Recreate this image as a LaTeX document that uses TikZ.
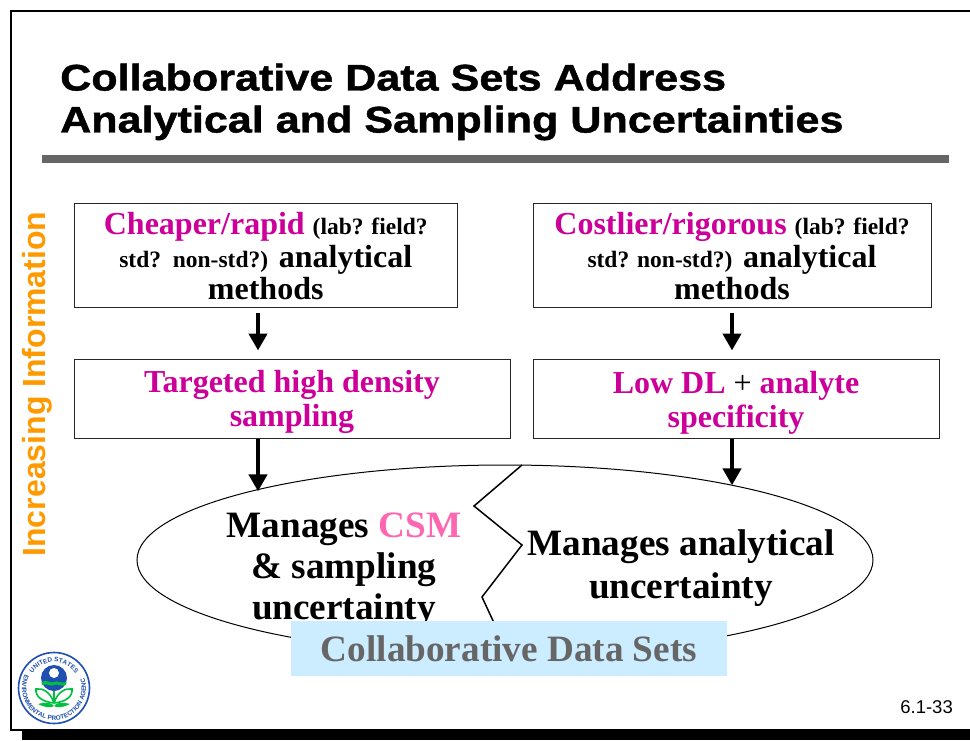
\documentclass[tikz,border=0pt]{standalone}
\usepackage{fontspec}
\setmainfont{Liberation Serif}
\setsansfont{Liberation Sans}
\newfontfamily\titlefont[FakeStretch=1.165,FakeBold=1.2]{Liberation Sans Bold}
\usepackage{xcolor}
\usetikzlibrary{arrows.meta,positioning,shapes.geometric,decorations.text}

\definecolor{magentatext}{HTML}{CC0099}
\definecolor{csmpink}{HTML}{FF66B2}
\definecolor{labelorange}{HTML}{FF9900}
\definecolor{bannerblue}{HTML}{CCECFF}
\definecolor{rulegrey}{HTML}{666666}
\definecolor{sealblue}{HTML}{1F4FB0}
\definecolor{sealgreen}{HTML}{00C040}

\newcommand{\bigtxt}{\fontsize{32}{33}\selectfont}
\newcommand{\smalltxt}{\fontsize{23.5}{33}\selectfont}
\newcommand{\ovaltxt}{\fontsize{37.2}{41}\selectfont}

\tikzset{
    infobox/.style={rectangle,draw=black!85,line width=1pt,align=center,font=\bfseries\bigtxt,inner sep=0pt},
    flow/.style={line width=4.5pt,-{Triangle[width=18pt,length=17pt]}},
    ovaltext/.style={align=center,font=\bfseries\ovaltxt}
}

\begin{document}
\begin{tikzpicture}[x=1pt,y=-1pt]
    \useasboundingbox (0,0) rectangle (970,740);

    % Slide frame
    \fill[black] (22,730) rectangle (970,740);
    \draw[line width=2pt] (970,10.5) -- (10.5,10.5) -- (10.5,730) -- (970,730);

    % Title
    \node[anchor=west,align=left,inner sep=0pt,font=\titlefont\fontsize{37}{42}\selectfont] (title) at (60,102)
        {Collaborative Data Sets Address\\Analytical and Sampling Uncertainties};
    \fill[rulegrey] (42,155) rectangle (949,163);

    % Side label
    \node[rotate=90,font=\sffamily\bfseries\fontsize{32}{34}\selectfont,text=labelorange] (axis) at (37,384) {Increasing Information};

    % Method boxes
    \node[infobox,minimum width=383pt,minimum height=104pt] (cheap) at (265.75,255)
        {\rule{0pt}{25pt}\textcolor{magentatext}{Cheaper/rapid} {\smalltxt(lab? field?}\\[-0.5pt]{\smalltxt std?\ \ non-std?)} analytical\\[-0.5pt]methods};
    \node[infobox,minimum width=398pt,minimum height=104pt] (costly) at (732,255)
        {\rule{0pt}{25pt}\textcolor{magentatext}{Costlier/rigorous} {\smalltxt(lab? field?}\\[-0.5pt]{\smalltxt std? non-std?)} analytical\\[-0.5pt]methods};

    % Result boxes
    \node[infobox,minimum width=436pt,minimum height=79pt,text=magentatext] (targeted) at (292,398.5)
        {\rule{0pt}{30pt}Targeted high density\\[1pt]sampling};
    \node[infobox,minimum width=406pt,minimum height=79pt,text=magentatext] (lowdl) at (736,398.5)
        {\rule{0pt}{30pt}Low DL \textcolor{black}{\mdseries +} analyte\\[1pt]specificity};

    % Oval and split
    \node[ellipse,draw,line width=1pt,minimum width=736pt,minimum height=190pt,inner sep=0pt] (blob) at (505,560) {};
    \coordinate (zigtop) at (522,465);
    \coordinate (zigbot) at (495,625);
    \draw[line width=1.5pt] (zigtop) -- (474,506) -- (522,545) -- (482,597) -- (zigbot);

    \node[ovaltext] (manleft) at (344,570) {Manages \textcolor{csmpink}{CSM}\\\& sampling\\uncertainty};
    \node[ovaltext] (manright) at (681,568) {Manages analytical\\[2pt]uncertainty};

    % Banner
    \node[fill=bannerblue,minimum width=436pt,minimum height=55pt,inner sep=0pt,text=rulegrey,font=\bfseries\fontsize{37.2}{40}\selectfont] (banner) at (509,648.5) {\raisebox{-1.5pt}{Collaborative Data Sets}};

    % Arrows
    \coordinate (leftx) at (258,0);
    \coordinate (rightx) at (732,0);
    \draw[flow,shorten <=5pt,shorten >=8pt] (cheap.south -| leftx) -- (targeted.north -| leftx);
    \draw[flow,shorten <=5pt,shorten >=8pt] (costly.south -| rightx) -- (lowdl.north -| rightx);
    \draw[flow] (targeted.south -| leftx) -- (blob.165 -| leftx);
    \draw[flow] (lowdl.south -| rightx) -- (blob.18 -| rightx);

    % Page number
    \node[anchor=east,inner sep=0pt,font=\sffamily\fontsize{18.5}{20}\selectfont] (pagenum) at (953,707) {6.1-33};

    % Seal
    \begin{scope}[shift={(54,688)},x=1pt,y=1pt]
        \draw[sealblue,line width=1.6pt,fill=white] (0,0) circle (35.5);
        \path[decorate,decoration={text along path,text align=center,
            text={|\sffamily\bfseries\fontsize{6.4}{6}\selectfont\color{sealblue}|UNITED STATES}}]
            (150:26) arc[start angle=150,end angle=30,radius=26];
        \path[decorate,decoration={text along path,text align=center,
            text={|\sffamily\bfseries\fontsize{6.4}{6}\selectfont\color{sealblue}|ENVIRONMENTAL PROTECTION AGENCY}}]
            (165:32) arc[start angle=165,end angle=375,radius=32];
        \fill[sealblue] (0,10) circle (13);
        \fill[white] (0,15) circle (5);
        \fill[sealgreen] (-12.5,6) .. controls (-6,9) and (-3,4) .. (0,6) .. controls (3,8) and (6,4) .. (12.5,6) -- (12,3) .. controls (6,1) and (3,5) .. (0,3) .. controls (-3,1) and (-6,5) .. (-12,3) -- cycle;
        \draw[sealgreen,line width=1.6pt,fill=white] (0,-15) .. controls (-4,-3) and (-12,0) .. (-18,-1) .. controls (-19,-8) and (-12,-14) .. (0,-15);
        \draw[sealgreen,line width=1.6pt,fill=white] (0,-15) .. controls (4,-3) and (12,0) .. (18,-1) .. controls (19,-8) and (12,-14) .. (0,-15);
        \fill[sealgreen] (-16,-16) .. controls (-8,-14) and (-3,-14) .. (0,-18) .. controls (3,-14) and (8,-14) .. (16,-16) .. controls (8,-20) and (3,-20) .. (0,-18) .. controls (-3,-20) and (-8,-20) .. (-16,-16) -- cycle;
        \draw[sealgreen,line width=1.2pt] (0,-3) -- (0,-15);
    \end{scope}
\end{tikzpicture}
\end{document}
